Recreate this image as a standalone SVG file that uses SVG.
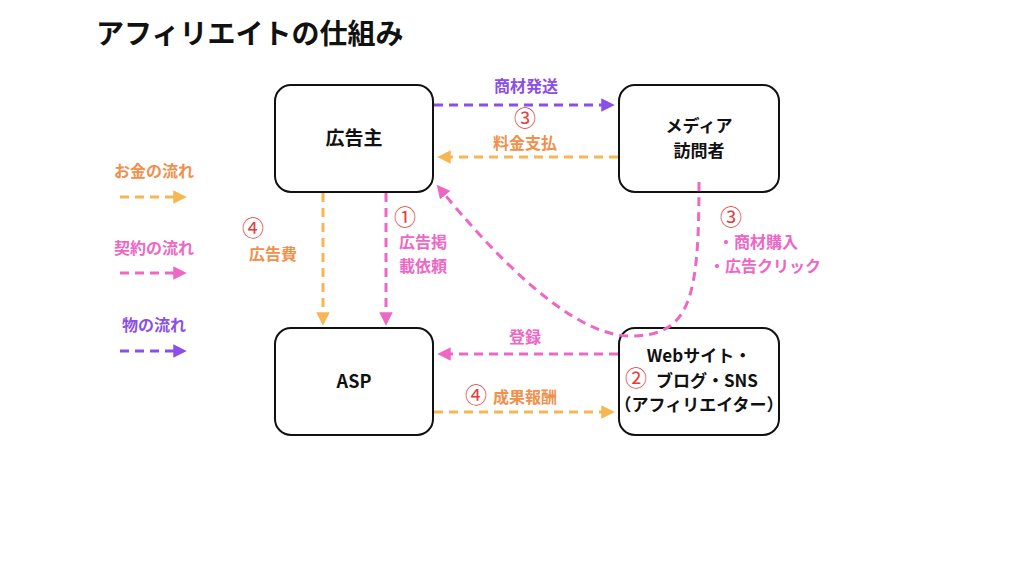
<svg xmlns="http://www.w3.org/2000/svg" width="1024" height="576" viewBox="0 0 1024 576">
<style>
text{font-family:"Noto Sans CJK JP","Noto Sans",sans-serif;font-weight:bold;text-anchor:middle}
.box{fill:#fff;stroke:#111;stroke-width:2}
.t{font-size:17px;fill:#111}
.c{fill:none;stroke-width:3;stroke-dasharray:9 6}
.or{stroke:#F6B654}.pk{stroke:#EE67C4}.pu{stroke:#8A4FE9}
.lo{fill:#F0904A;font-size:16px}.lp{fill:#EE67C4;font-size:16px}.lu{fill:#8A4FE9;font-size:16px}
.num{fill:#E0403C;font-size:22px;font-weight:normal}
</style>
<defs>
<marker id="ao" viewBox="0 0 10 10" refX="5" refY="5" markerWidth="4.5" markerHeight="4.5" orient="auto"><path d="M0 0L10 5L0 10z" fill="#F6B654"/></marker>
<marker id="ap" viewBox="0 0 10 10" refX="5" refY="5" markerWidth="4.5" markerHeight="4.5" orient="auto"><path d="M0 0L10 5L0 10z" fill="#EE67C4"/></marker>
<marker id="au" viewBox="0 0 10 10" refX="5" refY="5" markerWidth="4.5" markerHeight="4.5" orient="auto"><path d="M0 0L10 5L0 10z" fill="#8A4FE9"/></marker>
</defs>
<rect width="1024" height="576" fill="#fff"/>
<text x="96" y="44" style="text-anchor:start;font-size:28px;fill:#111">アフィリエイトの仕組み</text>

<g id="advertiser"><rect class="box" x="275" y="85" width="158" height="107" rx="16"/><text class="t" x="354" y="145" style="font-size:19px">広告主</text></g>
<g id="media"><rect class="box" x="619" y="85" width="160" height="107" rx="16"/><text class="t" x="699" y="132">メディア</text><text class="t" x="699" y="157">訪問者</text></g>
<g id="asp"><rect class="box" x="275" y="328" width="158" height="107" rx="16"/><text class="t" x="354" y="388" style="font-size:18px">ASP</text></g>
<g id="affiliate"><rect class="box" x="619" y="328" width="160" height="107" rx="16"/><text class="t" x="699" y="362">Webサイト・</text><text class="t" x="707" y="387">ブログ・SNS</text><text class="t" x="699" y="411">（アフィリエイター）</text></g>

<g id="connectors">
<path class="c pu" d="M434 105H608" marker-end="url(#au)"/>
<path class="c or" d="M618 157H444" marker-end="url(#ao)"/>
<path class="c or" d="M323 193V319" marker-end="url(#ao)"/>
<path class="c pk" d="M386 193V319" marker-end="url(#ap)"/>
<path class="c pk" d="M699 182C699 300 690 336 630 336C570 336 490 250 441 190" marker-end="url(#ap)"/>
<path class="c pk" d="M618 354H444" marker-end="url(#ap)"/>
<path class="c or" d="M434 412H608" marker-end="url(#ao)"/>
</g>

<g id="labels">
<text class="lu" x="526" y="92">商材発送</text>
<text class="num" x="525" y="126">③</text>
<text class="lo" x="525" y="149">料金支払</text>
<text class="num" x="253" y="236">④</text>
<text class="lo" x="273" y="260">広告費</text>
<text class="num" x="405" y="225">①</text>
<text class="lp" x="423" y="248">広告掲</text>
<text class="lp" x="423" y="272">載依頼</text>
<text class="num" x="731" y="225">③</text>
<text class="lp" x="758" y="248">・商材購入</text>
<text class="lp" x="765" y="272">・広告クリック</text>
<text class="lp" x="525" y="343">登録</text>
<text class="num" x="476" y="403">④</text>
<text class="lo" x="525" y="403">成果報酬</text>
<text class="num" x="636" y="386">②</text>
</g>

<g id="legend">
<text class="lo" x="154" y="177">お金の流れ</text>
<path class="c or" d="M120 197H180" marker-end="url(#ao)"/>
<text class="lp" x="154" y="254">契約の流れ</text>
<path class="c pk" d="M120 273H180" marker-end="url(#ap)"/>
<text class="lu" x="154" y="331">物の流れ</text>
<path class="c pu" d="M120 351H180" marker-end="url(#au)"/>
</g>
</svg>
